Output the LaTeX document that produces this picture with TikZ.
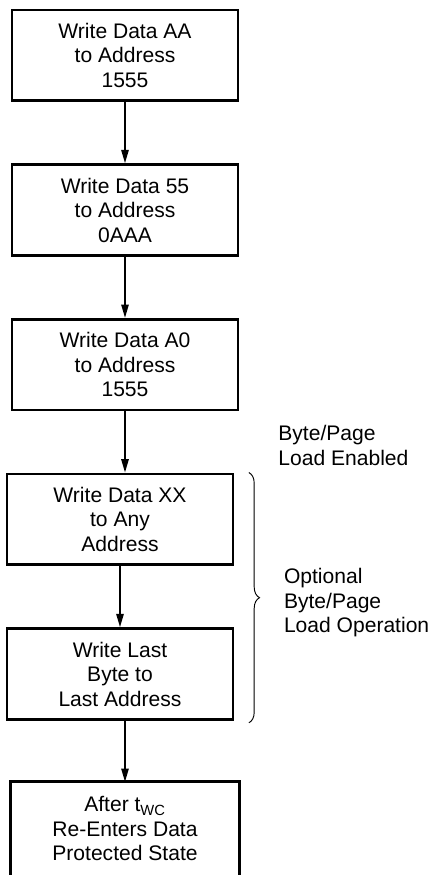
\documentclass[tikz,border=0pt]{standalone}
\usepackage{fontspec}
\setmainfont{Liberation Sans}
\usetikzlibrary{positioning, arrows.meta, decorations.pathreplacing}

\begin{document}
\begin{tikzpicture}[font=\fontsize{15.8pt}{18.4pt}\selectfont,
      stepbox/.style={draw, line width=2.2pt, minimum width=169.5pt, minimum height=68pt, align=center, inner sep=0pt},
      flow/.style={line width=1.3pt, -{Triangle[length=10pt, width=5.5pt]}},
      note/.style={align=left, inner sep=0pt},
      node distance=45.8pt]
   \useasboundingbox (0,0) rectangle (321.75pt,-656.25pt);
   \clip (0,0) rectangle (321.75pt,-656.25pt);
   % command sequence
   \node[stepbox] (b1) at (93.75pt,-41.5pt) {Write Data AA\\to Address\\1555};
   \node[stepbox, below=of b1] (b2) {Write Data 55\\to Address\\0AAA};
   \node[stepbox, below=of b2] (b3) {Write Data A0\\to Address\\1555};
   \node[stepbox, below=of b3, xshift=-3.75pt] (b4) {Write Data XX\\to Any\\Address};
   \node[stepbox, below=of b4] (b5) {Write Last\\Byte to\\Last Address};
   \node[stepbox, draw=none, below=of b5, xshift=3.75pt] (b6) {After t\textsubscript{WC}\\Re-Enters Data\\Protected State};
   \draw[line width=2.2pt] ([yshift=-12pt]b6.south west) -- (b6.north west) -- (b6.north east) -- ([yshift=-12pt]b6.south east);
   \draw[flow] (b1) -- (b2);
   \draw[flow] (b2) -- (b3);
   \draw[flow] (b3) -- (b3 |- b4.north);
   \draw[flow] (b4) -- (b5);
   \draw[flow] (b6 |- b5.south) -- (b6);
   % side notes
   \node[note, anchor=west] (enabled) at ([xshift=29pt, yshift=-25.5pt]b3.south east) {Byte/Page\\Load Enabled};
   \draw[decorate, decoration={brace, amplitude=8pt}, line width=0.7pt]
      ([xshift=10.8pt]b4.north east) -- ([xshift=10.8pt, yshift=-1.5pt]b5.south east)
      node[note, midway, right=26pt, yshift=-4pt] (optional) {Optional\\Byte/Page\\Load Operation};
\end{tikzpicture}
\end{document}
